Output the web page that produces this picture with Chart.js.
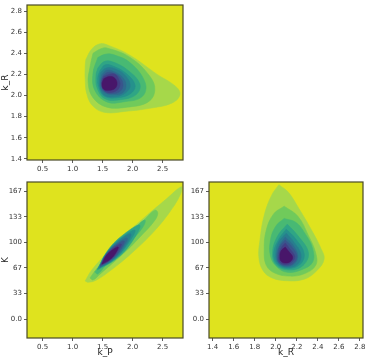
<!DOCTYPE html>
<html><head><meta charset="utf-8">
<script src="https://cdn.jsdelivr.net/npm/chart.js@4/dist/chart.umd.min.js"></script>
<style>
html,body{margin:0;padding:0;background:#fff;}
body{width:365px;height:359px;position:relative;overflow:hidden;}
.p{position:absolute;}
</style></head><body>
<div class="p" style="left:0;top:0;width:186px;height:175px"><canvas id="cA"></canvas></div>
<div class="p" style="left:0;top:177px;width:186px;height:182px"><canvas id="cB"></canvas></div>
<div class="p" style="left:182px;top:177px;width:183px;height:182px"><canvas id="cC"></canvas></div>
<script>
// ---- tick values / labels ----
const kPTicks = [0.5, 1.0, 1.5, 2.0, 2.5];
const kPLabels = ['0.5', '1.0', '1.5', '2.0', '2.5'];
const kRTicks = [1.4, 1.6, 1.8, 2.0, 2.2, 2.4, 2.6, 2.8];
const kRLabels = ['1.4', '1.6', '1.8', '2.0', '2.2', '2.4', '2.6', '2.8'];
const KTicks = [0, 33.33, 66.67, 100, 133.33, 166.67];
const KLabels = ['0.0', '33', '67', '100', '133', '167'];

// ---- contour level colours (outer -> inner) ----
const bgColor = '#dfe31e';
const levelColors = ['#a6d84a', '#70ca5b', '#48b973', '#2fa585', '#25918c', '#287d8e', '#2f6a8e', '#39558c', '#433e85', '#48166a'];

// ---- panel k_P (x) vs k_R (y): contour outlines ----
const A1 = [[1.22,2.34],[1.32,2.44],[1.46,2.49],[1.62,2.47],[1.96,2.38],[2.41,2.20],[2.71,2.09],[2.79,2.01],[2.66,1.93],[2.29,1.88],[1.87,1.85],[1.54,1.84],[1.34,1.90],[1.24,2.01],[1.21,2.15],[1.21,2.28]];
const A2 = [[1.34,2.40],[1.46,2.44],[1.57,2.45],[1.96,2.36],[2.29,2.18],[2.37,2.05],[2.26,1.94],[1.91,1.89],[1.57,1.89],[1.34,1.98],[1.26,2.12],[1.29,2.27]];
const A3 = [[1.42,2.36],[1.54,2.39],[1.66,2.39],[1.96,2.31],[2.21,2.12],[2.16,1.99],[1.84,1.94],[1.57,1.94],[1.37,2.05],[1.34,2.21]];
const A4 = [[1.42,2.26],[1.52,2.32],[1.66,2.32],[1.92,2.24],[2.12,2.11],[2.06,2.01],[1.79,1.96],[1.54,1.97],[1.41,2.07],[1.39,2.19]];
const A5 = [[1.46,2.24],[1.54,2.29],[1.67,2.28],[1.89,2.21],[2.04,2.10],[1.97,2.02],[1.76,1.98],[1.54,1.99],[1.44,2.07],[1.42,2.17]];
const A6 = [[1.47,2.22],[1.56,2.26],[1.67,2.26],[1.86,2.20],[1.96,2.10],[1.89,2.03],[1.72,1.99],[1.54,2.00],[1.46,2.07],[1.45,2.16]];
const A7 = [[1.49,2.20],[1.57,2.24],[1.67,2.23],[1.82,2.18],[1.89,2.10],[1.84,2.03],[1.71,2.01],[1.56,2.02],[1.47,2.07],[1.47,2.15]];
const A8 = [[1.51,2.19],[1.59,2.22],[1.69,2.21],[1.79,2.17],[1.84,2.10],[1.79,2.04],[1.67,2.02],[1.56,2.03],[1.49,2.08],[1.48,2.14]];
const A9 = [[1.52,2.18],[1.61,2.20],[1.71,2.20],[1.77,2.15],[1.79,2.10],[1.74,2.05],[1.62,2.03],[1.52,2.05],[1.49,2.09],[1.49,2.14]];
const A10 = [[1.52,2.16],[1.61,2.18],[1.69,2.17],[1.74,2.12],[1.71,2.07],[1.61,2.05],[1.52,2.06],[1.49,2.11]];

// ---- panel k_P (x) vs K (y) ----
const B1 = [[1.21,49.7],[1.32,63.9],[1.57,85.6],[1.90,111.5],[2.24,135.3],[2.57,156.9],[2.76,169.9],[2.82,172],[2.79,161.2],[2.62,139.6],[2.35,113.6],[2.01,87.7],[1.68,66.1],[1.40,51],[1.26,48]];
const B2 = [[1.29,53.6],[1.41,66.5],[1.57,82.1],[1.79,99],[2.01,114.5],[2.22,131.4],[2.37,141.8],[2.42,137.9],[2.36,127.5],[2.12,106.7],[1.91,89.9],[1.67,73],[1.46,58.8],[1.34,51]];
const B3 = [[1.37,61.3],[1.51,74.3],[1.71,91.2],[1.92,108],[2.12,124.9],[2.21,128.8],[2.17,119.7],[1.99,102.9],[1.79,87.3],[1.57,71.7],[1.42,58.8]];
const B4 = [[1.41,63.9],[1.58,88.8],[1.82,108.3],[2.12,122.3],[1.96,97.4],[1.72,78]];
const B5 = [[1.42,65.2],[1.57,86.6],[1.78,103.5],[2.04,115.8],[1.89,94.4],[1.69,77.6]];
const B6 = [[1.44,66.5],[1.57,85.3],[1.74,100.1],[1.97,110.8],[1.85,91.8],[1.67,77]];
const B7 = [[1.46,67.8],[1.56,84],[1.71,96.5],[1.91,105.4],[1.80,89.2],[1.65,76.8]];
const B8 = [[1.46,69.1],[1.55,83.1],[1.68,94],[1.86,101.6],[1.77,87.5],[1.63,76.7]];
const B9 = [[1.47,70.4],[1.55,82.2],[1.66,91.3],[1.81,97.7],[1.73,85.9],[1.62,76.8]];
const B10 = [[1.49,71.7],[1.55,81.5],[1.64,88.7],[1.76,93.8],[1.70,84],[1.61,76.8]];

// ---- panel k_R (x) vs K (y) ----
const C1 = [[2.03,175],[1.96,161],[1.89,135],[1.85,103],[1.84,80],[1.88,63],[1.96,54],[2.10,50],[2.27,52],[2.39,63],[2.46,78],[2.43,92],[2.34,116],[2.22,144],[2.12,165]];
const C2 = [[2.08,147],[1.98,137],[1.91,116],[1.89,90],[1.91,70],[1.99,60],[2.13,56],[2.27,59],[2.38,70],[2.38,86],[2.31,109],[2.21,134]];
const C3 = [[2.08,131],[2.00,121],[1.95,103],[1.95,82],[2.01,68],[2.11,61],[2.24,64],[2.35,74],[2.35,92],[2.28,111],[2.19,126]];
const C4 = [[2.11,123.6],[2.21,108.7],[2.31,86.6],[2.26,69.9],[2.12,63.9],[2.00,71.1],[1.97,87.8],[2.02,108.7]];
const C5 = [[2.10,117.1],[2.19,104.3],[2.27,85.4],[2.23,71.0],[2.11,65.9],[2.01,72.0],[1.98,86.4],[2.03,104.3]];
const C6 = [[2.10,111.9],[2.17,100.7],[2.24,84.2],[2.21,71.7],[2.11,67.2],[2.02,72.6],[2.00,85.1],[2.03,100.7]];
const C7 = [[2.09,106.7],[2.16,97.1],[2.21,83.0],[2.18,72.3],[2.10,68.5],[2.03,73.1],[2.01,83.8],[2.04,97.1]];
const C8 = [[2.09,102.9],[2.15,94.6],[2.20,82.4],[2.17,73.1],[2.10,69.8],[2.03,73.8],[2.02,83.0],[2.04,94.6]];
const C9 = [[2.09,99],[2.13,92],[2.18,81.7],[2.15,73.9],[2.09,71.1],[2.04,74.4],[2.03,82.3],[2.05,92]];
const C10 = [[2.09,93.8],[2.12,88.6],[2.16,80.9],[2.14,75.1],[2.09,73],[2.05,75.5],[2.04,81.3],[2.05,88.6]];

const levelsA = [A1, A2, A3, A4, A5, A6, A7, A8, A9, A10];
const levelsB = [B1, B2, B3, B4, B5, B6, B7, B8, B9, B10];
const levelsC = [C1, C2, C3, C4, C5, C6, C7, C8, C9, C10];

const FONT = 'DejaVu Sans';
const TXT = '#333333';

const framePlugin = {
  id: 'frame',
  beforeDraw(chart) {
    const a = chart.chartArea, ctx = chart.ctx;
    ctx.save(); ctx.fillStyle = bgColor;
    ctx.fillRect(a.left, a.top, a.right - a.left, a.bottom - a.top);
    ctx.restore();
  },
  afterDraw(chart) {
    const a = chart.chartArea, ctx = chart.ctx;
    ctx.save(); ctx.strokeStyle = '#4a4a26'; ctx.lineWidth = 1.2;
    ctx.strokeRect(a.left, a.top, a.right - a.left, a.bottom - a.top);
    ctx.restore();
  }
};

function makeDatasets(levels) {
  return levels.map((lv, i) => {
    const pts = lv.map(p => ({x: p[0], y: p[1]}));
    pts.push({x: lv[0][0], y: lv[0][1]});
    return {
      data: pts, showLine: true, fill: 'shape',
      backgroundColor: levelColors[i], borderColor: levelColors[i],
      borderWidth: 0.6, pointRadius: 0, tension: 0.4, order: 100 - i
    };
  });
}

function axis(horizontal, min, max, ticks, labels, title, size) {
  return {
    type: 'linear', min: min, max: max,
    afterBuildTicks: s => { s.ticks = ticks.map(v => ({value: v})); },
    ticks: {
      autoSkip: false, maxRotation: 0, padding: 2, color: TXT,
      font: {family: FONT, size: 7},
      callback: (v) => {
        let best = 0;
        ticks.forEach((t, j) => { if (Math.abs(t - v) < Math.abs(ticks[best] - v)) best = j; });
        return labels[best];
      }
    },
    grid: {display: true, drawOnChartArea: false, drawTicks: true, tickLength: 3, tickColor: '#333', tickWidth: 0.8},
    border: {display: false},
    title: {display: !!title, text: title || '', color: '#222', font: {family: FONT, size: 9}, padding: {top: 0, bottom: 1}},
    afterFit: s => {
      if (horizontal) { s.height = size; } else { s.width = size; }
      s.paddingLeft = 0; s.paddingRight = 0; s.paddingTop = 0; s.paddingBottom = 0;
    }
  };
}

function makeChart(id, levels, xAxis, yAxis, padRight) {
  new Chart(document.getElementById(id), {
    type: 'scatter',
    data: {datasets: makeDatasets(levels)},
    options: {
      responsive: true, maintainAspectRatio: false, animation: false, events: [],
      layout: {padding: {top: 5, right: padRight, left: 0, bottom: 0}},
      plugins: {legend: {display: false}, tooltip: {enabled: false}},
      scales: {x: xAxis, y: yAxis}
    },
    plugins: [framePlugin]
  });
}

makeChart('cA', levelsA,
  axis(true, 0.24, 2.84, kPTicks, kPLabels, null, 15),
  axis(false, 1.39, 2.857, kRTicks, kRLabels, 'k_R', 27), 3);
makeChart('cB', levelsB,
  axis(true, 0.24, 2.84, kPTicks, kPLabels, 'k_P', 21),
  axis(false, -24.6, 178.5, KTicks, KLabels, 'K', 27), 3);
makeChart('cC', levelsC,
  axis(true, 1.365, 2.83, kRTicks, kRLabels, 'k_R', 21),
  axis(false, -24.6, 178.5, KTicks, KLabels, null, 27), 2);
</script>
</body></html>
